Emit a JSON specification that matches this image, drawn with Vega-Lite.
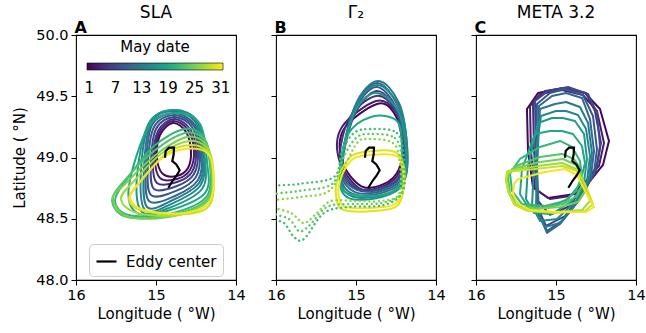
{
"$schema": "https://vega.github.io/schema/vega-lite/v6.json",
"padding": {"left": 12, "top": 3, "right": 6, "bottom": 2},
"spacing": 40,
"bounds": "flush",
"config": {
  "font": "DejaVu Sans",
  "view": {"stroke": "#000", "strokeWidth": 1.1},
  "axis": {"grid": false, "domain": false, "tickSize": 5, "tickColor": "#000", "labelColor": "#000", "titleColor": "#000", "labelFontSize": 14.5, "titleFontSize": 15, "titleFontWeight": "normal", "labelPadding": 3, "labelFlush": false, "labelOverlap": false, "labelBound": false},
  "title": {"fontSize": 17, "fontWeight": "normal", "offset": -2, "color": "#000"},
  "legend": {"labelColor": "#000", "titleColor": "#000"}
},
"datasets": {
"e": [
{"i":0,"x":14.888,"y":48.998},{"i":1,"x":14.879,"y":49.053},{"i":2,"x":14.838,"y":49.08},{"i":3,"x":14.775,"y":49.08},{"i":4,"x":14.779,"y":49.026},{"i":5,"x":14.796,"y":48.971},{"i":6,"x":14.746,"y":48.944},{"i":7,"x":14.704,"y":48.896},{"i":8,"x":14.746,"y":48.849},{"i":9,"x":14.788,"y":48.814},{"i":10,"x":14.846,"y":48.753}
],
"c": [
{"p":"A","d":1,"i":0,"x":14.788,"y":49.282},{"p":"A","d":1,"i":1,"x":14.625,"y":49.208},{"p":"A","d":1,"i":2,"x":14.563,"y":49.053},{"p":"A","d":1,"i":3,"x":14.6,"y":48.914},{"p":"A","d":1,"i":4,"x":14.738,"y":48.849},{"p":"A","d":1,"i":5,"x":14.913,"y":48.865},{"p":"A","d":1,"i":6,"x":14.988,"y":48.996},{"p":"A","d":1,"i":7,"x":14.95,"y":49.184},
{"p":"A","d":3,"i":0,"x":14.788,"y":49.298},{"p":"A","d":3,"i":1,"x":14.6,"y":49.224},{"p":"A","d":3,"i":2,"x":14.525,"y":49.053},{"p":"A","d":3,"i":3,"x":14.575,"y":48.898},{"p":"A","d":3,"i":4,"x":14.738,"y":48.824},{"p":"A","d":3,"i":5,"x":14.95,"y":48.833},{"p":"A","d":3,"i":6,"x":15.013,"y":48.988},{"p":"A","d":3,"i":7,"x":14.963,"y":49.2},
{"p":"A","d":5,"i":0,"x":14.775,"y":49.314},{"p":"A","d":5,"i":1,"x":14.575,"y":49.233},{"p":"A","d":5,"i":2,"x":14.5,"y":49.053},{"p":"A","d":5,"i":3,"x":14.55,"y":48.882},{"p":"A","d":5,"i":4,"x":14.738,"y":48.8},{"p":"A","d":5,"i":5,"x":14.988,"y":48.792},{"p":"A","d":5,"i":6,"x":15.038,"y":48.971},{"p":"A","d":5,"i":7,"x":14.975,"y":49.216},
{"p":"A","d":7,"i":0,"x":14.775,"y":49.331},{"p":"A","d":7,"i":1,"x":14.55,"y":49.249},{"p":"A","d":7,"i":2,"x":14.475,"y":49.053},{"p":"A","d":7,"i":3,"x":14.525,"y":48.865},{"p":"A","d":7,"i":4,"x":14.738,"y":48.767},{"p":"A","d":7,"i":5,"x":15.025,"y":48.743},{"p":"A","d":7,"i":6,"x":15.063,"y":48.955},{"p":"A","d":7,"i":7,"x":15.0,"y":49.233},
{"p":"A","d":9,"i":0,"x":14.775,"y":49.347},{"p":"A","d":9,"i":1,"x":14.525,"y":49.257},{"p":"A","d":9,"i":2,"x":14.45,"y":49.037},{"p":"A","d":9,"i":3,"x":14.5,"y":48.841},{"p":"A","d":9,"i":4,"x":14.75,"y":48.727},{"p":"A","d":9,"i":5,"x":15.063,"y":48.694},{"p":"A","d":9,"i":6,"x":15.1,"y":48.947},{"p":"A","d":9,"i":7,"x":15.025,"y":49.249},
{"p":"A","d":11,"i":0,"x":14.775,"y":49.363},{"p":"A","d":11,"i":1,"x":14.513,"y":49.265},{"p":"A","d":11,"i":2,"x":14.425,"y":49.029},{"p":"A","d":11,"i":3,"x":14.475,"y":48.816},{"p":"A","d":11,"i":4,"x":14.763,"y":48.686},{"p":"A","d":11,"i":5,"x":15.088,"y":48.645},{"p":"A","d":11,"i":6,"x":15.125,"y":48.931},{"p":"A","d":11,"i":7,"x":15.05,"y":49.265},
{"p":"A","d":13,"i":0,"x":14.775,"y":49.38},{"p":"A","d":13,"i":1,"x":14.5,"y":49.282},{"p":"A","d":13,"i":2,"x":14.413,"y":49.012},{"p":"A","d":13,"i":3,"x":14.463,"y":48.792},{"p":"A","d":13,"i":4,"x":14.788,"y":48.653},{"p":"A","d":13,"i":5,"x":15.113,"y":48.596},{"p":"A","d":13,"i":6,"x":15.15,"y":48.914},{"p":"A","d":13,"i":7,"x":15.063,"y":49.282},
{"p":"A","d":15,"i":0,"x":14.763,"y":49.388},{"p":"A","d":15,"i":1,"x":14.488,"y":49.29},{"p":"A","d":15,"i":2,"x":14.4,"y":48.996},{"p":"A","d":15,"i":3,"x":14.45,"y":48.767},{"p":"A","d":15,"i":4,"x":14.813,"y":48.62},{"p":"A","d":15,"i":5,"x":15.138,"y":48.571},{"p":"A","d":15,"i":6,"x":15.188,"y":48.89},{"p":"A","d":15,"i":7,"x":15.075,"y":49.29},
{"p":"A","d":17,"i":0,"x":14.763,"y":49.388},{"p":"A","d":17,"i":1,"x":14.475,"y":49.29},{"p":"A","d":17,"i":2,"x":14.388,"y":48.988},{"p":"A","d":17,"i":3,"x":14.425,"y":48.743},{"p":"A","d":17,"i":4,"x":14.838,"y":48.588},{"p":"A","d":17,"i":5,"x":15.175,"y":48.555},{"p":"A","d":17,"i":6,"x":15.238,"y":48.849},{"p":"A","d":17,"i":7,"x":15.088,"y":49.282},
{"p":"A","d":19,"i":0,"x":14.738,"y":49.363},{"p":"A","d":19,"i":1,"x":14.45,"y":49.273},{"p":"A","d":19,"i":2,"x":14.363,"y":48.971},{"p":"A","d":19,"i":3,"x":14.388,"y":48.71},{"p":"A","d":19,"i":4,"x":14.863,"y":48.563},{"p":"A","d":19,"i":5,"x":15.238,"y":48.547},{"p":"A","d":19,"i":6,"x":15.338,"y":48.767},{"p":"A","d":19,"i":7,"x":15.088,"y":49.257},
{"p":"A","d":21,"i":0,"x":14.65,"y":49.233},{"p":"A","d":21,"i":1,"x":14.425,"y":49.184},{"p":"A","d":21,"i":2,"x":14.338,"y":49.012},{"p":"A","d":21,"i":3,"x":14.363,"y":48.686},{"p":"A","d":21,"i":4,"x":14.838,"y":48.539},{"p":"A","d":21,"i":5,"x":15.338,"y":48.531},{"p":"A","d":21,"i":6,"x":15.513,"y":48.645},{"p":"A","d":21,"i":7,"x":15.363,"y":48.824},{"p":"A","d":21,"i":8,"x":15.025,"y":49.094},
{"p":"A","d":23,"i":0,"x":14.638,"y":49.2},{"p":"A","d":23,"i":1,"x":14.4,"y":49.151},{"p":"A","d":23,"i":2,"x":14.325,"y":48.988},{"p":"A","d":23,"i":3,"x":14.35,"y":48.669},{"p":"A","d":23,"i":4,"x":14.813,"y":48.531},{"p":"A","d":23,"i":5,"x":15.363,"y":48.514},{"p":"A","d":23,"i":6,"x":15.55,"y":48.645},{"p":"A","d":23,"i":7,"x":15.4,"y":48.808},{"p":"A","d":23,"i":8,"x":15.025,"y":49.053},
{"p":"A","d":25,"i":0,"x":14.613,"y":49.167},{"p":"A","d":25,"i":1,"x":14.388,"y":49.118},{"p":"A","d":25,"i":2,"x":14.313,"y":48.971},{"p":"A","d":25,"i":3,"x":14.338,"y":48.661},{"p":"A","d":25,"i":4,"x":14.775,"y":48.522},{"p":"A","d":25,"i":5,"x":15.338,"y":48.514},{"p":"A","d":25,"i":6,"x":15.538,"y":48.661},{"p":"A","d":25,"i":7,"x":15.375,"y":48.792},{"p":"A","d":25,"i":8,"x":14.988,"y":49.029},
{"p":"A","d":27,"i":0,"x":14.588,"y":49.135},{"p":"A","d":27,"i":1,"x":14.375,"y":49.086},{"p":"A","d":27,"i":2,"x":14.3,"y":48.955},{"p":"A","d":27,"i":3,"x":14.325,"y":48.645},{"p":"A","d":27,"i":4,"x":14.713,"y":48.531},{"p":"A","d":27,"i":5,"x":15.238,"y":48.547},{"p":"A","d":27,"i":6,"x":15.438,"y":48.661},{"p":"A","d":27,"i":7,"x":15.275,"y":48.808},{"p":"A","d":27,"i":8,"x":14.938,"y":49.029},
{"p":"A","d":29,"i":0,"x":14.563,"y":49.102},{"p":"A","d":29,"i":1,"x":14.363,"y":49.053},{"p":"A","d":29,"i":2,"x":14.288,"y":48.931},{"p":"A","d":29,"i":3,"x":14.313,"y":48.629},{"p":"A","d":29,"i":4,"x":14.613,"y":48.539},{"p":"A","d":29,"i":5,"x":15.15,"y":48.563},{"p":"A","d":29,"i":6,"x":15.338,"y":48.661},{"p":"A","d":29,"i":7,"x":15.188,"y":48.808},{"p":"A","d":29,"i":8,"x":14.863,"y":49.037},
{"p":"A","d":31,"i":0,"x":14.65,"y":49.069},{"p":"A","d":31,"i":1,"x":14.375,"y":49.045},{"p":"A","d":31,"i":2,"x":14.288,"y":48.906},{"p":"A","d":31,"i":3,"x":14.325,"y":48.645},{"p":"A","d":31,"i":4,"x":14.65,"y":48.547},{"p":"A","d":31,"i":5,"x":15.15,"y":48.571},{"p":"A","d":31,"i":6,"x":15.325,"y":48.669},{"p":"A","d":31,"i":7,"x":15.213,"y":48.792},{"p":"A","d":31,"i":8,"x":14.938,"y":48.988},

{"p":"B","d":1,"i":0,"x":14.738,"y":49.437},{"p":"B","d":1,"i":1,"x":14.525,"y":49.363},{"p":"B","d":1,"i":2,"x":14.425,"y":49.135},{"p":"B","d":1,"i":3,"x":14.463,"y":48.906},{"p":"B","d":1,"i":4,"x":14.65,"y":48.784},{"p":"B","d":1,"i":5,"x":14.938,"y":48.767},{"p":"B","d":1,"i":6,"x":15.175,"y":48.971},{"p":"B","d":1,"i":7,"x":15.15,"y":49.233},
{"p":"B","d":3,"i":0,"x":14.75,"y":49.461},{"p":"B","d":3,"i":1,"x":14.513,"y":49.38},{"p":"B","d":3,"i":2,"x":14.413,"y":49.135},{"p":"B","d":3,"i":3,"x":14.45,"y":48.89},{"p":"B","d":3,"i":4,"x":14.65,"y":48.767},{"p":"B","d":3,"i":5,"x":14.963,"y":48.751},{"p":"B","d":3,"i":6,"x":15.213,"y":48.988},{"p":"B","d":3,"i":7,"x":15.175,"y":49.249},
{"p":"B","d":5,"i":0,"x":14.75,"y":49.502},{"p":"B","d":5,"i":1,"x":14.5,"y":49.38},{"p":"B","d":5,"i":2,"x":14.4,"y":49.118},{"p":"B","d":5,"i":3,"x":14.438,"y":48.873},{"p":"B","d":5,"i":4,"x":14.65,"y":48.751},{"p":"B","d":5,"i":5,"x":14.988,"y":48.743},{"p":"B","d":5,"i":6,"x":15.2,"y":48.955},{"p":"B","d":5,"i":7,"x":15.088,"y":49.314},
{"p":"B","d":7,"i":0,"x":14.75,"y":49.543},{"p":"B","d":7,"i":1,"x":14.513,"y":49.396},{"p":"B","d":7,"i":2,"x":14.4,"y":49.118},{"p":"B","d":7,"i":3,"x":14.425,"y":48.873},{"p":"B","d":7,"i":4,"x":14.638,"y":48.759},{"p":"B","d":7,"i":5,"x":14.963,"y":48.743},{"p":"B","d":7,"i":6,"x":15.163,"y":48.931},{"p":"B","d":7,"i":7,"x":15.025,"y":49.339},
{"p":"B","d":9,"i":0,"x":14.75,"y":49.576},{"p":"B","d":9,"i":1,"x":14.5,"y":49.412},{"p":"B","d":9,"i":2,"x":14.388,"y":49.118},{"p":"B","d":9,"i":3,"x":14.413,"y":48.865},{"p":"B","d":9,"i":4,"x":14.638,"y":48.751},{"p":"B","d":9,"i":5,"x":14.988,"y":48.735},{"p":"B","d":9,"i":6,"x":15.188,"y":48.914},{"p":"B","d":9,"i":7,"x":15.013,"y":49.38},
{"p":"B","d":11,"i":0,"x":14.738,"y":49.608},{"p":"B","d":11,"i":1,"x":14.475,"y":49.42},{"p":"B","d":11,"i":2,"x":14.375,"y":49.11},{"p":"B","d":11,"i":3,"x":14.4,"y":48.849},{"p":"B","d":11,"i":4,"x":14.638,"y":48.735},{"p":"B","d":11,"i":5,"x":15.013,"y":48.718},{"p":"B","d":11,"i":6,"x":15.188,"y":48.906},{"p":"B","d":11,"i":7,"x":15.025,"y":49.396},
{"p":"B","d":13,"i":0,"x":14.725,"y":49.624},{"p":"B","d":13,"i":1,"x":14.463,"y":49.445},{"p":"B","d":13,"i":2,"x":14.363,"y":49.11},{"p":"B","d":13,"i":3,"x":14.388,"y":48.833},{"p":"B","d":13,"i":4,"x":14.638,"y":48.718},{"p":"B","d":13,"i":5,"x":15.038,"y":48.702},{"p":"B","d":13,"i":6,"x":15.188,"y":48.89},{"p":"B","d":13,"i":7,"x":15.013,"y":49.42},
{"p":"B","d":15,"i":0,"x":14.738,"y":49.592},{"p":"B","d":15,"i":1,"x":14.463,"y":49.42},{"p":"B","d":15,"i":2,"x":14.363,"y":49.094},{"p":"B","d":15,"i":3,"x":14.4,"y":48.808},{"p":"B","d":15,"i":4,"x":14.65,"y":48.694},{"p":"B","d":15,"i":5,"x":15.063,"y":48.686},{"p":"B","d":15,"i":6,"x":15.188,"y":48.873},{"p":"B","d":15,"i":7,"x":15.013,"y":49.396},
{"p":"B","d":17,"i":0,"x":14.763,"y":49.527},{"p":"B","d":17,"i":1,"x":14.475,"y":49.38},{"p":"B","d":17,"i":2,"x":14.375,"y":49.053},{"p":"B","d":17,"i":3,"x":14.413,"y":48.784},{"p":"B","d":17,"i":4,"x":14.675,"y":48.678},{"p":"B","d":17,"i":5,"x":15.088,"y":48.669},{"p":"B","d":17,"i":6,"x":15.2,"y":48.849},{"p":"B","d":17,"i":7,"x":15.038,"y":49.339},
{"p":"B","d":19,"i":0,"x":14.813,"y":49.331},{"p":"B","d":19,"i":1,"x":14.488,"y":49.298},{"p":"B","d":19,"i":2,"x":14.425,"y":49.053},{"p":"B","d":19,"i":3,"x":14.463,"y":48.767},{"p":"B","d":19,"i":4,"x":14.763,"y":48.686},{"p":"B","d":19,"i":5,"x":15.113,"y":48.71},{"p":"B","d":19,"i":6,"x":15.2,"y":48.824},{"p":"B","d":19,"i":7,"x":15.113,"y":49.176},
{"p":"B","d":30,"i":0,"x":14.963,"y":49.037},{"p":"B","d":30,"i":1,"x":14.55,"y":49.053},{"p":"B","d":30,"i":2,"x":14.413,"y":48.955},{"p":"B","d":30,"i":3,"x":14.4,"y":48.767},{"p":"B","d":30,"i":4,"x":14.488,"y":48.604},{"p":"B","d":30,"i":5,"x":14.775,"y":48.563},{"p":"B","d":30,"i":6,"x":15.15,"y":48.571},{"p":"B","d":30,"i":7,"x":15.238,"y":48.645},{"p":"B","d":30,"i":8,"x":15.238,"y":48.808},{"p":"B","d":30,"i":9,"x":15.113,"y":48.971},
{"p":"B","d":31,"i":0,"x":14.938,"y":49.012},{"p":"B","d":31,"i":1,"x":14.525,"y":49.02},{"p":"B","d":31,"i":2,"x":14.425,"y":48.931},{"p":"B","d":31,"i":3,"x":14.413,"y":48.743},{"p":"B","d":31,"i":4,"x":14.513,"y":48.62},{"p":"B","d":31,"i":5,"x":14.813,"y":48.588},{"p":"B","d":31,"i":6,"x":15.125,"y":48.596},{"p":"B","d":31,"i":7,"x":15.213,"y":48.669},{"p":"B","d":31,"i":8,"x":15.2,"y":48.808},{"p":"B","d":31,"i":9,"x":15.088,"y":48.955},

{"p":"Bd","d":22,"i":0,"x":14.813,"y":49.233},{"p":"Bd","d":22,"i":1,"x":14.488,"y":49.2},{"p":"Bd","d":22,"i":2,"x":14.4,"y":48.988},{"p":"Bd","d":22,"i":3,"x":14.413,"y":48.727},{"p":"Bd","d":22,"i":4,"x":14.65,"y":48.612},{"p":"Bd","d":22,"i":5,"x":15.088,"y":48.596},{"p":"Bd","d":22,"i":6,"x":15.4,"y":48.547},{"p":"Bd","d":22,"i":7,"x":15.65,"y":48.335},{"p":"Bd","d":22,"i":8,"x":15.775,"y":48.351},{"p":"Bd","d":22,"i":9,"x":15.9,"y":48.465},{"p":"Bd","d":22,"i":10,"x":16.088,"y":48.522},{"p":"Bd","d":22,"i":11,"x":16.088,"y":48.743},{"p":"Bd","d":22,"i":12,"x":15.713,"y":48.784},{"p":"Bd","d":22,"i":13,"x":15.275,"y":48.841},{"p":"Bd","d":22,"i":14,"x":15.175,"y":49.053},{"p":"Bd","d":22,"i":15,"x":15.025,"y":49.2},
{"p":"Bd","d":24,"i":0,"x":14.838,"y":49.192},{"p":"Bd","d":24,"i":1,"x":14.513,"y":49.159},{"p":"Bd","d":24,"i":2,"x":14.425,"y":48.971},{"p":"Bd","d":24,"i":3,"x":14.438,"y":48.71},{"p":"Bd","d":24,"i":4,"x":14.675,"y":48.629},{"p":"Bd","d":24,"i":5,"x":15.063,"y":48.62},{"p":"Bd","d":24,"i":6,"x":15.363,"y":48.596},{"p":"Bd","d":24,"i":7,"x":15.588,"y":48.441},{"p":"Bd","d":24,"i":8,"x":15.713,"y":48.4},{"p":"Bd","d":24,"i":9,"x":15.838,"y":48.498},{"p":"Bd","d":24,"i":10,"x":16.088,"y":48.563},{"p":"Bd","d":24,"i":11,"x":16.088,"y":48.686},{"p":"Bd","d":24,"i":12,"x":15.713,"y":48.727},{"p":"Bd","d":24,"i":13,"x":15.3,"y":48.784},{"p":"Bd","d":24,"i":14,"x":15.15,"y":49.012},{"p":"Bd","d":24,"i":15,"x":15.0,"y":49.159},
{"p":"Bd","d":26,"i":0,"x":14.863,"y":49.151},{"p":"Bd","d":26,"i":1,"x":14.538,"y":49.118},{"p":"Bd","d":26,"i":2,"x":14.45,"y":48.947},{"p":"Bd","d":26,"i":3,"x":14.463,"y":48.702},{"p":"Bd","d":26,"i":4,"x":14.688,"y":48.645},{"p":"Bd","d":26,"i":5,"x":15.025,"y":48.645},{"p":"Bd","d":26,"i":6,"x":15.313,"y":48.645},{"p":"Bd","d":26,"i":7,"x":15.488,"y":48.547},{"p":"Bd","d":26,"i":8,"x":15.65,"y":48.465},{"p":"Bd","d":26,"i":9,"x":15.813,"y":48.547},{"p":"Bd","d":26,"i":10,"x":16.088,"y":48.604},{"p":"Bd","d":26,"i":11,"x":16.088,"y":48.645},{"p":"Bd","d":26,"i":12,"x":15.688,"y":48.678},{"p":"Bd","d":26,"i":13,"x":15.338,"y":48.727},{"p":"Bd","d":26,"i":14,"x":15.125,"y":48.955},{"p":"Bd","d":26,"i":15,"x":14.988,"y":49.118},

{"p":"C","d":1,"i":0,"x":15.363,"y":49.396},{"p":"C","d":1,"i":1,"x":15.225,"y":49.527},{"p":"C","d":1,"i":2,"x":14.913,"y":49.567},{"p":"C","d":1,"i":3,"x":14.638,"y":49.527},{"p":"C","d":1,"i":4,"x":14.45,"y":49.396},{"p":"C","d":1,"i":5,"x":14.338,"y":49.135},{"p":"C","d":1,"i":6,"x":14.413,"y":48.939},{"p":"C","d":1,"i":7,"x":14.575,"y":48.808},{"p":"C","d":1,"i":8,"x":14.763,"y":48.702},{"p":"C","d":1,"i":9,"x":15.1,"y":48.669},{"p":"C","d":1,"i":10,"x":15.288,"y":48.759},{"p":"C","d":1,"i":11,"x":15.35,"y":49.053},
{"p":"C","d":3,"i":0,"x":15.325,"y":49.42},{"p":"C","d":3,"i":1,"x":15.2,"y":49.518},{"p":"C","d":3,"i":2,"x":14.925,"y":49.551},{"p":"C","d":3,"i":3,"x":14.663,"y":49.51},{"p":"C","d":3,"i":4,"x":14.488,"y":49.38},{"p":"C","d":3,"i":5,"x":14.4,"y":49.118},{"p":"C","d":3,"i":6,"x":14.463,"y":48.931},{"p":"C","d":3,"i":7,"x":14.625,"y":48.808},{"p":"C","d":3,"i":8,"x":14.825,"y":48.686},{"p":"C","d":3,"i":9,"x":15.075,"y":48.661},{"p":"C","d":3,"i":10,"x":15.263,"y":48.743},{"p":"C","d":3,"i":11,"x":15.313,"y":49.053},
{"p":"C","d":5,"i":0,"x":15.288,"y":49.445},{"p":"C","d":5,"i":1,"x":15.138,"y":49.543},{"p":"C","d":5,"i":2,"x":14.888,"y":49.567},{"p":"C","d":5,"i":3,"x":14.625,"y":49.527},{"p":"C","d":5,"i":4,"x":14.513,"y":49.38},{"p":"C","d":5,"i":5,"x":14.438,"y":49.118},{"p":"C","d":5,"i":6,"x":14.488,"y":48.931},{"p":"C","d":5,"i":7,"x":14.638,"y":48.792},{"p":"C","d":5,"i":8,"x":14.825,"y":48.604},{"p":"C","d":5,"i":9,"x":15.075,"y":48.531},{"p":"C","d":5,"i":10,"x":15.225,"y":48.645},{"p":"C","d":5,"i":11,"x":15.275,"y":49.053},
{"p":"C","d":7,"i":0,"x":15.263,"y":49.461},{"p":"C","d":7,"i":1,"x":15.1,"y":49.543},{"p":"C","d":7,"i":2,"x":14.85,"y":49.576},{"p":"C","d":7,"i":3,"x":14.6,"y":49.518},{"p":"C","d":7,"i":4,"x":14.488,"y":49.363},{"p":"C","d":7,"i":5,"x":14.45,"y":49.094},{"p":"C","d":7,"i":6,"x":14.5,"y":48.89},{"p":"C","d":7,"i":7,"x":14.65,"y":48.727},{"p":"C","d":7,"i":8,"x":14.888,"y":48.522},{"p":"C","d":7,"i":9,"x":15.125,"y":48.441},{"p":"C","d":7,"i":10,"x":15.238,"y":48.604},{"p":"C","d":7,"i":11,"x":15.25,"y":49.053},
{"p":"C","d":9,"i":0,"x":15.238,"y":49.437},{"p":"C","d":9,"i":1,"x":15.075,"y":49.527},{"p":"C","d":9,"i":2,"x":14.888,"y":49.559},{"p":"C","d":9,"i":3,"x":14.663,"y":49.51},{"p":"C","d":9,"i":4,"x":14.538,"y":49.339},{"p":"C","d":9,"i":5,"x":14.488,"y":49.069},{"p":"C","d":9,"i":6,"x":14.525,"y":48.873},{"p":"C","d":9,"i":7,"x":14.675,"y":48.686},{"p":"C","d":9,"i":8,"x":14.925,"y":48.482},{"p":"C","d":9,"i":9,"x":15.113,"y":48.4},{"p":"C","d":9,"i":10,"x":15.225,"y":48.563},{"p":"C","d":9,"i":11,"x":15.25,"y":48.971},
{"p":"C","d":11,"i":0,"x":15.213,"y":49.42},{"p":"C","d":11,"i":1,"x":15.05,"y":49.502},{"p":"C","d":11,"i":2,"x":14.875,"y":49.527},{"p":"C","d":11,"i":3,"x":14.675,"y":49.486},{"p":"C","d":11,"i":4,"x":14.575,"y":49.314},{"p":"C","d":11,"i":5,"x":14.525,"y":49.053},{"p":"C","d":11,"i":6,"x":14.563,"y":48.849},{"p":"C","d":11,"i":7,"x":14.7,"y":48.661},{"p":"C","d":11,"i":8,"x":14.95,"y":48.457},{"p":"C","d":11,"i":9,"x":15.113,"y":48.384},{"p":"C","d":11,"i":10,"x":15.213,"y":48.539},{"p":"C","d":11,"i":11,"x":15.238,"y":48.931},
{"p":"C","d":13,"i":0,"x":15.2,"y":49.396},{"p":"C","d":13,"i":1,"x":15.013,"y":49.437},{"p":"C","d":13,"i":2,"x":14.875,"y":49.453},{"p":"C","d":13,"i":3,"x":14.7,"y":49.412},{"p":"C","d":13,"i":4,"x":14.6,"y":49.282},{"p":"C","d":13,"i":5,"x":14.55,"y":49.037},{"p":"C","d":13,"i":6,"x":14.588,"y":48.824},{"p":"C","d":13,"i":7,"x":14.725,"y":48.645},{"p":"C","d":13,"i":8,"x":14.95,"y":48.465},{"p":"C","d":13,"i":9,"x":15.138,"y":48.433},{"p":"C","d":13,"i":10,"x":15.25,"y":48.563},{"p":"C","d":13,"i":11,"x":15.238,"y":48.931},
{"p":"C","d":15,"i":0,"x":15.188,"y":49.339},{"p":"C","d":15,"i":1,"x":15.0,"y":49.38},{"p":"C","d":15,"i":2,"x":14.875,"y":49.38},{"p":"C","d":15,"i":3,"x":14.725,"y":49.347},{"p":"C","d":15,"i":4,"x":14.625,"y":49.233},{"p":"C","d":15,"i":5,"x":14.575,"y":49.012},{"p":"C","d":15,"i":6,"x":14.613,"y":48.808},{"p":"C","d":15,"i":7,"x":14.75,"y":48.645},{"p":"C","d":15,"i":8,"x":14.988,"y":48.498},{"p":"C","d":15,"i":9,"x":15.2,"y":48.482},{"p":"C","d":15,"i":10,"x":15.3,"y":48.604},{"p":"C","d":15,"i":11,"x":15.275,"y":48.931},
{"p":"C","d":17,"i":0,"x":15.225,"y":49.282},{"p":"C","d":17,"i":1,"x":15.05,"y":49.322},{"p":"C","d":17,"i":2,"x":14.913,"y":49.322},{"p":"C","d":17,"i":3,"x":14.763,"y":49.298},{"p":"C","d":17,"i":4,"x":14.65,"y":49.192},{"p":"C","d":17,"i":5,"x":14.613,"y":48.988},{"p":"C","d":17,"i":6,"x":14.65,"y":48.792},{"p":"C","d":17,"i":7,"x":14.8,"y":48.645},{"p":"C","d":17,"i":8,"x":15.05,"y":48.539},{"p":"C","d":17,"i":9,"x":15.275,"y":48.547},{"p":"C","d":17,"i":10,"x":15.375,"y":48.661},{"p":"C","d":17,"i":11,"x":15.35,"y":48.931},
{"p":"C","d":19,"i":0,"x":15.263,"y":49.192},{"p":"C","d":19,"i":1,"x":15.075,"y":49.216},{"p":"C","d":19,"i":2,"x":14.925,"y":49.216},{"p":"C","d":19,"i":3,"x":14.788,"y":49.192},{"p":"C","d":19,"i":4,"x":14.675,"y":49.094},{"p":"C","d":19,"i":5,"x":14.638,"y":48.955},{"p":"C","d":19,"i":6,"x":14.7,"y":48.784},{"p":"C","d":19,"i":7,"x":14.85,"y":48.661},{"p":"C","d":19,"i":8,"x":15.1,"y":48.588},{"p":"C","d":19,"i":9,"x":15.35,"y":48.596},{"p":"C","d":19,"i":10,"x":15.45,"y":48.702},{"p":"C","d":19,"i":11,"x":15.425,"y":48.906},
{"p":"C","d":21,"i":0,"x":15.45,"y":48.988},{"p":"C","d":21,"i":1,"x":15.2,"y":49.086},{"p":"C","d":21,"i":2,"x":14.95,"y":49.135},{"p":"C","d":21,"i":3,"x":14.8,"y":49.086},{"p":"C","d":21,"i":4,"x":14.7,"y":48.971},{"p":"C","d":21,"i":5,"x":14.675,"y":48.849},{"p":"C","d":21,"i":6,"x":14.75,"y":48.727},{"p":"C","d":21,"i":7,"x":14.888,"y":48.645},{"p":"C","d":21,"i":8,"x":15.138,"y":48.604},{"p":"C","d":21,"i":9,"x":15.425,"y":48.62},{"p":"C","d":21,"i":10,"x":15.55,"y":48.727},{"p":"C","d":21,"i":11,"x":15.575,"y":48.873},
{"p":"C","d":23,"i":0,"x":15.5,"y":48.931},{"p":"C","d":23,"i":1,"x":15.2,"y":49.004},{"p":"C","d":23,"i":2,"x":14.925,"y":49.029},{"p":"C","d":23,"i":3,"x":14.775,"y":48.988},{"p":"C","d":23,"i":4,"x":14.688,"y":48.906},{"p":"C","d":23,"i":5,"x":14.663,"y":48.792},{"p":"C","d":23,"i":6,"x":14.738,"y":48.686},{"p":"C","d":23,"i":7,"x":14.913,"y":48.62},{"p":"C","d":23,"i":8,"x":15.175,"y":48.588},{"p":"C","d":23,"i":9,"x":15.45,"y":48.604},{"p":"C","d":23,"i":10,"x":15.575,"y":48.702},{"p":"C","d":23,"i":11,"x":15.6,"y":48.849},
{"p":"C","d":25,"i":0,"x":15.55,"y":48.906},{"p":"C","d":25,"i":1,"x":15.2,"y":48.963},{"p":"C","d":25,"i":2,"x":14.913,"y":48.988},{"p":"C","d":25,"i":3,"x":14.75,"y":48.939},{"p":"C","d":25,"i":4,"x":14.675,"y":48.849},{"p":"C","d":25,"i":5,"x":14.638,"y":48.727},{"p":"C","d":25,"i":6,"x":14.725,"y":48.637},{"p":"C","d":25,"i":7,"x":14.95,"y":48.596},{"p":"C","d":25,"i":8,"x":15.263,"y":48.58},{"p":"C","d":25,"i":9,"x":15.475,"y":48.604},{"p":"C","d":25,"i":10,"x":15.588,"y":48.71},{"p":"C","d":25,"i":11,"x":15.613,"y":48.833},
{"p":"C","d":27,"i":0,"x":15.6,"y":48.89},{"p":"C","d":27,"i":1,"x":15.225,"y":48.931},{"p":"C","d":27,"i":2,"x":14.925,"y":48.955},{"p":"C","d":27,"i":3,"x":14.75,"y":48.906},{"p":"C","d":27,"i":4,"x":14.663,"y":48.808},{"p":"C","d":27,"i":5,"x":14.575,"y":48.645},{"p":"C","d":27,"i":6,"x":14.675,"y":48.571},{"p":"C","d":27,"i":7,"x":15.013,"y":48.555},{"p":"C","d":27,"i":8,"x":15.35,"y":48.571},{"p":"C","d":27,"i":9,"x":15.525,"y":48.62},{"p":"C","d":27,"i":10,"x":15.6,"y":48.727},{"p":"C","d":27,"i":11,"x":15.625,"y":48.824},
{"p":"C","d":29,"i":0,"x":15.613,"y":48.882},{"p":"C","d":29,"i":1,"x":15.263,"y":48.906},{"p":"C","d":29,"i":2,"x":14.925,"y":48.931},{"p":"C","d":29,"i":3,"x":14.738,"y":48.89},{"p":"C","d":29,"i":4,"x":14.638,"y":48.784},{"p":"C","d":29,"i":5,"x":14.538,"y":48.62},{"p":"C","d":29,"i":6,"x":14.638,"y":48.563},{"p":"C","d":29,"i":7,"x":15.013,"y":48.547},{"p":"C","d":29,"i":8,"x":15.35,"y":48.563},{"p":"C","d":29,"i":9,"x":15.513,"y":48.612},{"p":"C","d":29,"i":10,"x":15.588,"y":48.71},{"p":"C","d":29,"i":11,"x":15.625,"y":48.808},
{"p":"C","d":31,"i":0,"x":15.475,"y":48.824},{"p":"C","d":31,"i":1,"x":15.138,"y":48.882},{"p":"C","d":31,"i":2,"x":14.888,"y":48.906},{"p":"C","d":31,"i":3,"x":14.738,"y":48.857},{"p":"C","d":31,"i":4,"x":14.65,"y":48.743},{"p":"C","d":31,"i":5,"x":14.525,"y":48.596},{"p":"C","d":31,"i":6,"x":14.625,"y":48.555},{"p":"C","d":31,"i":7,"x":15.013,"y":48.555},{"p":"C","d":31,"i":8,"x":15.325,"y":48.571},{"p":"C","d":31,"i":9,"x":15.488,"y":48.629},{"p":"C","d":31,"i":10,"x":15.538,"y":48.71},{"p":"C","d":31,"i":11,"x":15.525,"y":48.784}
]
},
"hconcat": [
{
  "width": 160, "height": 245,
  "title": {"text": "SLA"},
  "layer": [
    {"data": {"name": "c"}, "transform": [{"filter": "datum.p == 'A'"}],
     "mark": {"type": "line", "interpolate": "cardinal-closed", "strokeWidth": 2, "clip": true},
     "encoding": {
       "x": {"field": "x", "type": "quantitative", "scale": {"domain": [16, 14], "nice": false, "zero": false}, "axis": {"values": [16, 15.5, 15, 14.5, 14], "tickCount": 5, "labelExpr": "datum.value % 1 == 0 ? format(datum.value, 'd') : ''", "tickColor": {"condition": {"test": "datum.value % 1 != 0", "value": "transparent"}, "value": "#000"}, "title": "Longitude ( °W)", "titlePadding": 5, "labelOverlap": false}},
       "y": {"field": "y", "type": "quantitative", "scale": {"domain": [48, 50], "nice": false, "zero": false}, "axis": {"values": [48, 48.5, 49, 49.5, 50], "tickCount": 8, "format": ".1f", "title": "Latitude ( °N)", "titlePadding": 8}},
       "color": {"field": "d", "type": "quantitative", "scale": {"scheme": "viridis", "domain": [0.5, 31.5]},
         "legend": {"title": "May date", "orient": "none", "direction": "horizontal", "legendX": 11, "legendY": 5, "gradientLength": 136, "gradientThickness": 7, "values": [1, 7, 13, 19, 25, 31], "titleAnchor": "middle", "titleFontSize": 15, "titleFontWeight": "normal", "labelFontSize": 15, "titlePadding": 8, "labelOffset": 11, "gradientStrokeColor": "#000", "gradientStrokeWidth": 0.6}},
       "detail": {"field": "d"},
       "order": {"field": "i"}
     }},
    {"data": {"name": "e"},
     "mark": {"type": "line", "strokeWidth": 2.2},
     "encoding": {
       "x": {"field": "x", "type": "quantitative"},
       "y": {"field": "y", "type": "quantitative"},
       "order": {"field": "i"},
       "stroke": {"datum": "Eddy center", "type": "nominal", "scale": {"domain": ["Eddy center"], "range": ["#000000"]},
         "legend": {"title": null, "orient": "none", "legendX": 13, "legendY": 209, "padding": 6, "strokeColor": "#cccccc", "fillColor": "#ffffff", "cornerRadius": 4, "symbolType": "stroke", "symbolSize": 400, "symbolStrokeWidth": 2.2, "labelFontSize": 15, "labelOffset": 8}}
     }},
    {"data": {"values": [{"t": "A"}]},
     "mark": {"type": "text", "fontWeight": "bold", "fontSize": 16, "align": "left", "baseline": "alphabetic", "dy": -2, "color": "#000"},
     "encoding": {"x": {"datum": 16.02, "type": "quantitative"}, "y": {"datum": 50, "type": "quantitative"}, "text": {"field": "t"}}}
  ]
},
{
  "width": 160, "height": 245,
  "title": {"text": "Γ₂"},
  "layer": [
    {"data": {"name": "c"}, "transform": [{"filter": "datum.p == 'B'"}],
     "mark": {"type": "line", "interpolate": "cardinal-closed", "strokeWidth": 2, "clip": true},
     "encoding": {
       "x": {"field": "x", "type": "quantitative", "scale": {"domain": [16, 14], "nice": false, "zero": false}, "axis": {"values": [16, 15.5, 15, 14.5, 14], "tickCount": 5, "labelExpr": "datum.value % 1 == 0 ? format(datum.value, 'd') : ''", "tickColor": {"condition": {"test": "datum.value % 1 != 0", "value": "transparent"}, "value": "#000"}, "title": "Longitude ( °W)", "titlePadding": 5, "labelOverlap": false}},
       "y": {"field": "y", "type": "quantitative", "scale": {"domain": [48, 50], "nice": false, "zero": false}, "axis": {"values": [48, 48.5, 49, 49.5, 50], "tickCount": 8, "labels": false, "title": null}},
       "color": {"field": "d", "type": "quantitative", "scale": {"scheme": "viridis", "domain": [0.5, 31.5]}},
       "detail": {"field": "d"},
       "order": {"field": "i"}
     }},
    {"data": {"name": "c"}, "transform": [{"filter": "datum.p == 'Bd'"}],
     "mark": {"type": "line", "interpolate": "cardinal-closed", "strokeWidth": 2.4, "strokeCap": "round", "strokeDash": [0.1, 4.6], "clip": true},
     "encoding": {
       "x": {"field": "x", "type": "quantitative"},
       "y": {"field": "y", "type": "quantitative"},
       "color": {"field": "d", "type": "quantitative"},
       "detail": {"field": "d"},
       "order": {"field": "i"}
     }},
    {"data": {"name": "e"},
     "mark": {"type": "line", "strokeWidth": 2.2},
     "encoding": {
       "x": {"field": "x", "type": "quantitative"},
       "y": {"field": "y", "type": "quantitative"},
       "order": {"field": "i"},
       "stroke": {"datum": "Eddy center", "type": "nominal"}
     }},
    {"data": {"values": [{"t": "B"}]},
     "mark": {"type": "text", "fontWeight": "bold", "fontSize": 16, "align": "left", "baseline": "alphabetic", "dy": -2, "color": "#000"},
     "encoding": {"x": {"datum": 16.02, "type": "quantitative"}, "y": {"datum": 50, "type": "quantitative"}, "text": {"field": "t"}}}
  ]
},
{
  "width": 160, "height": 245,
  "title": {"text": "META 3.2"},
  "layer": [
    {"data": {"name": "c"}, "transform": [{"filter": "datum.p == 'C'"}],
     "mark": {"type": "line", "interpolate": "linear-closed", "strokeWidth": 2, "strokeJoin": "round", "clip": true},
     "encoding": {
       "x": {"field": "x", "type": "quantitative", "scale": {"domain": [16, 14], "nice": false, "zero": false}, "axis": {"values": [16, 15.5, 15, 14.5, 14], "tickCount": 5, "labelExpr": "datum.value % 1 == 0 ? format(datum.value, 'd') : ''", "tickColor": {"condition": {"test": "datum.value % 1 != 0", "value": "transparent"}, "value": "#000"}, "title": "Longitude ( °W)", "titlePadding": 5, "labelOverlap": false}},
       "y": {"field": "y", "type": "quantitative", "scale": {"domain": [48, 50], "nice": false, "zero": false}, "axis": {"values": [48, 48.5, 49, 49.5, 50], "tickCount": 8, "labels": false, "title": null}},
       "color": {"field": "d", "type": "quantitative", "scale": {"scheme": "viridis", "domain": [0.5, 31.5]}},
       "detail": {"field": "d"},
       "order": {"field": "i"}
     }},
    {"data": {"name": "e"},
     "mark": {"type": "line", "strokeWidth": 2.2},
     "encoding": {
       "x": {"field": "x", "type": "quantitative"},
       "y": {"field": "y", "type": "quantitative"},
       "order": {"field": "i"},
       "stroke": {"datum": "Eddy center", "type": "nominal"}
     }},
    {"data": {"values": [{"t": "C"}]},
     "mark": {"type": "text", "fontWeight": "bold", "fontSize": 16, "align": "left", "baseline": "alphabetic", "dy": -2, "color": "#000"},
     "encoding": {"x": {"datum": 16.02, "type": "quantitative"}, "y": {"datum": 50, "type": "quantitative"}, "text": {"field": "t"}}}
  ]
}
]
}
